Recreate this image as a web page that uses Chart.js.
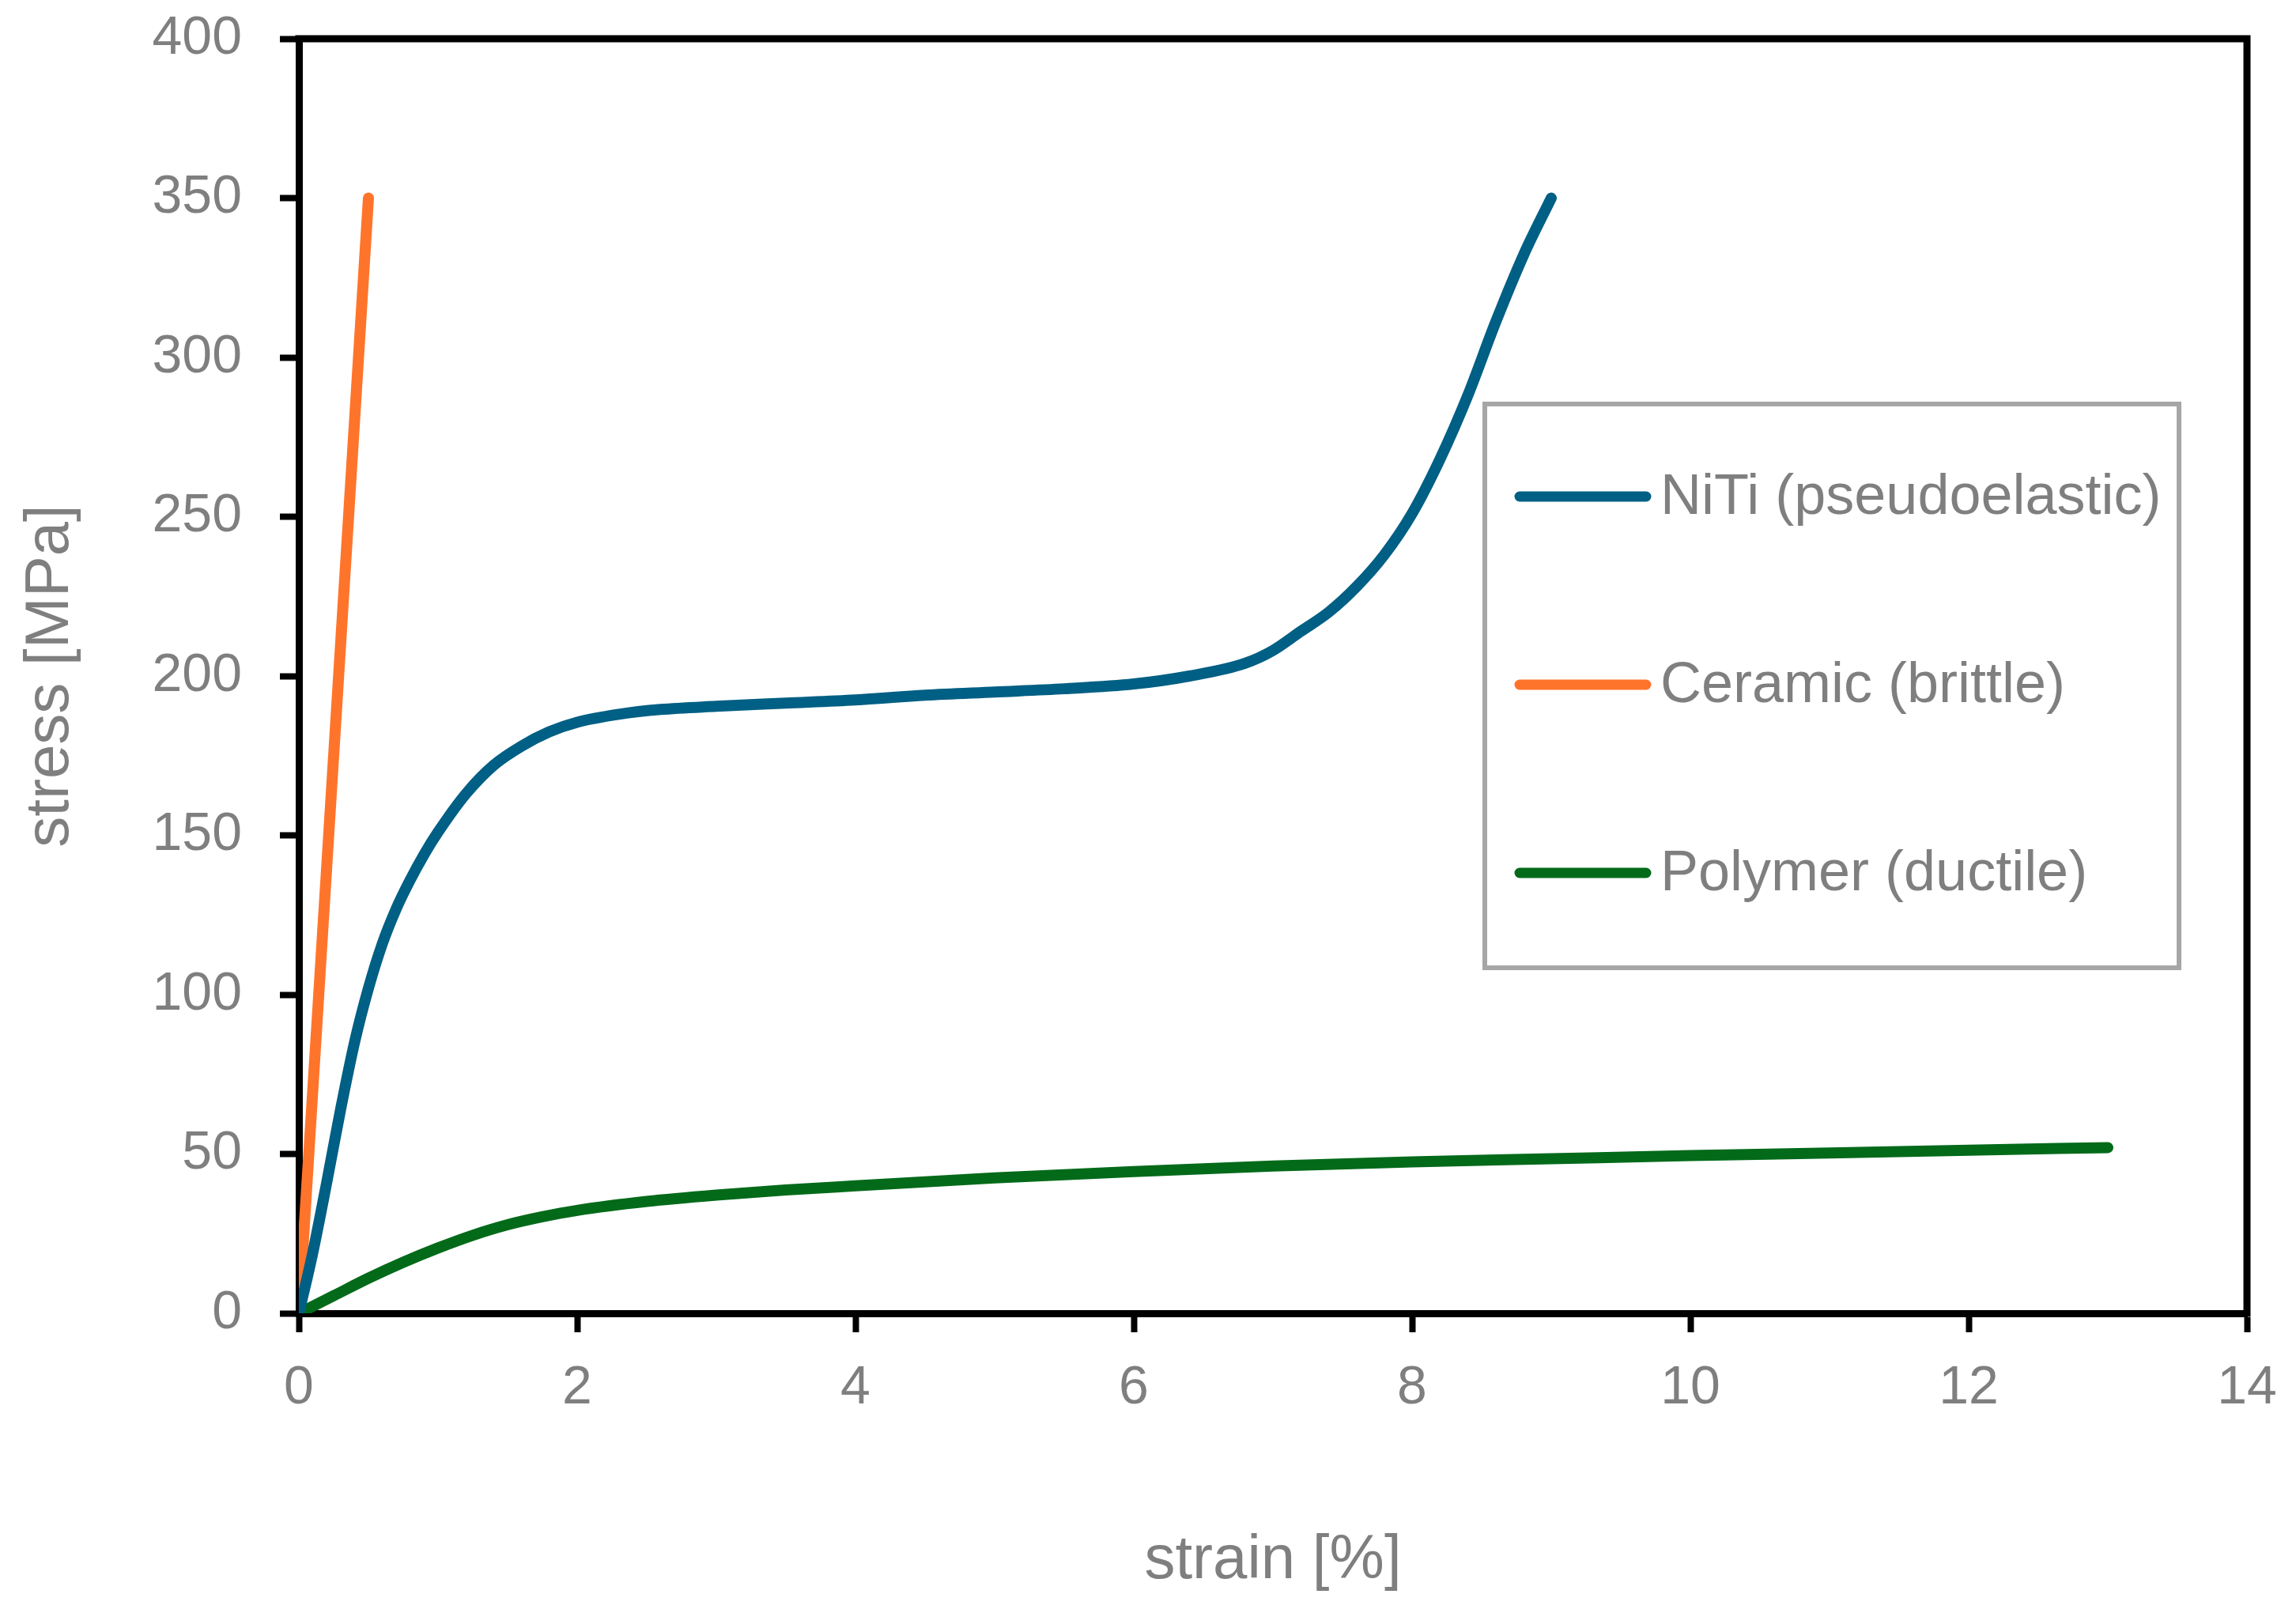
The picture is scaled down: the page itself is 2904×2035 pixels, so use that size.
<!DOCTYPE html>
<html>
<head>
<meta charset="utf-8">
<script src="https://cdn.jsdelivr.net/npm/chart.js@4.4.1/dist/chart.umd.min.js"></script>
<style>
  html, body { margin: 0; padding: 0; background: #fff; }
</style>
</head>
<body>
<canvas id="chart" width="2904" height="2035"></canvas>
<script>
// series
const seriesNames = ['NiTi (pseudoelastic)', 'Ceramic (brittle)', 'Polymer (ductile)'];
const seriesColors = ['#005F84', '#FF742B', '#026A19'];

const nitiStrain = [0, 0.1, 0.2, 0.3, 0.4, 0.5, 0.6, 0.7, 0.8, 0.9, 1.0, 1.2, 1.4, 1.6, 1.8, 2.0, 2.3, 2.6, 3.0, 3.5,
  4.0, 4.5, 5.0, 5.5, 6.0, 6.4, 6.8, 7.0, 7.2, 7.4, 7.6, 7.8, 8.0, 8.2, 8.4, 8.6, 8.8, 9.0];
const nitiStress = [0, 19, 41, 64, 85, 102, 116, 127, 136, 144, 151, 163, 172, 178, 182.5, 185.5, 188, 189.5, 190.5, 191.5,
  192.5, 194, 195, 196, 197.5, 200, 204, 208, 214, 220, 228, 238, 251, 268, 288, 311, 332, 350];

const ceramicStrain = [0, 0.5];
const ceramicStress = [0, 350];

const polymerStrain = [0, 0.25, 0.5, 0.75, 1, 1.25, 1.5, 1.75, 2, 2.5, 3, 3.5, 4, 5, 6, 7, 8, 9, 10, 11, 12, 13];
const polymerStress = [0, 5.5, 11, 16, 20.5, 24.5, 27.8, 30.3, 32.3, 35.1, 37.1, 38.7, 40, 42.5, 44.5, 46.2, 47.5, 48.5, 49.5, 50.3, 51.2, 52];

// axes
const xTickValues = [0, 2, 4, 6, 8, 10, 12, 14];
const yTickValues = [0, 50, 100, 150, 200, 250, 300, 350, 400];
const xTitle = 'strain [%]';
const yTitle = 'stress [MPa]';

const grey = '#7f7f7f';
const fontFamily = '"Liberation Sans", Arial, sans-serif';

function pts(xs, ys) {
  return xs.map((x, i) => ({ x: x, y: ys[i] }));
}

// black frame on top and right of the plot area
const frame = {
  id: 'frame',
  beforeDatasetsDraw(chart) {
    const { ctx, chartArea: a } = chart;
    ctx.save();
    ctx.strokeStyle = '#000';
    ctx.lineWidth = 9;
    ctx.lineCap = 'square';
    ctx.beginPath();
    ctx.moveTo(a.left, a.top);
    ctx.lineTo(a.right, a.top);
    ctx.lineTo(a.right, a.bottom);
    ctx.stroke();
    ctx.restore();
  }
};

// boxed legend inside the plot
const boxLegend = {
  id: 'boxLegend',
  afterDraw(chart) {
    const ctx = chart.ctx;
    const left = 1878, top = 511, right = 2756, bottom = 1224;
    ctx.save();
    ctx.fillStyle = '#fff';
    ctx.fillRect(left, top, right - left, bottom - top);
    ctx.strokeStyle = '#a6a6a6';
    ctx.lineWidth = 6;
    ctx.strokeRect(left, top, right - left, bottom - top);
    const rows = [628, 866, 1104];
    chart.data.datasets.forEach((ds, i) => {
      const y = rows[i];
      ctx.strokeStyle = ds.borderColor;
      ctx.lineWidth = 13;
      ctx.lineCap = 'round';
      ctx.beginPath();
      ctx.moveTo(1922, y);
      ctx.lineTo(2082, y);
      ctx.stroke();
      ctx.fillStyle = grey;
      ctx.font = '72px ' + fontFamily;
      ctx.textBaseline = 'middle';
      ctx.textAlign = 'left';
      ctx.fillText(ds.label, 2100, y + 2);
    });
    ctx.restore();
  }
};

const datasets = [
  { label: seriesNames[0], data: pts(nitiStrain, nitiStress) },
  { label: seriesNames[1], data: pts(ceramicStrain, ceramicStress) },
  { label: seriesNames[2], data: pts(polymerStrain, polymerStress) }
].map((d, i) => Object.assign(d, {
  borderColor: seriesColors[i],
  backgroundColor: seriesColors[i],
  borderWidth: 14,
  borderCapStyle: 'round',
  borderJoinStyle: 'round',
  pointRadius: 0,
  fill: false,
  cubicInterpolationMode: 'monotone'
}));

const tickFont = { family: fontFamily, size: 68 };
const titleFont = { family: fontFamily, size: 78 };

new Chart(document.getElementById('chart').getContext('2d'), {
  type: 'line',
  data: { datasets },
  options: {
    responsive: false,
    animation: false,
    devicePixelRatio: 1,
    layout: { padding: { top: 49, right: 62, left: 0, bottom: 0 } },
    plugins: { legend: { display: false }, tooltip: { enabled: false } },
    scales: {
      x: {
        type: 'linear',
        min: 0,
        max: 14,
        afterBuildTicks: s => { s.ticks = xTickValues.map(v => ({ value: v })); },
        afterFit: s => { s.height = 374; s.paddingLeft = 0; s.paddingRight = 0; },
        border: { display: true, color: '#000', width: 9 },
        grid: { drawOnChartArea: false, drawTicks: true, tickLength: 24, tickColor: '#000', tickWidth: 8 },
        ticks: { color: grey, font: tickFont, padding: 30, maxRotation: 0 },
        title: { display: true, text: xTitle, color: grey, font: titleFont, padding: { top: 0, bottom: 14 } }
      },
      y: {
        type: 'linear',
        min: 0,
        max: 400,
        afterBuildTicks: s => { s.ticks = yTickValues.map(v => ({ value: v })); },
        afterFit: s => { s.width = 378; s.paddingTop = 0; s.paddingBottom = 0; },
        border: { display: true, color: '#000', width: 9 },
        grid: { drawOnChartArea: false, drawTicks: true, tickLength: 24, tickColor: '#000', tickWidth: 8 },
        ticks: { color: grey, font: tickFont, padding: 48 },
        title: { display: true, text: yTitle, color: grey, font: titleFont, padding: { top: 18, bottom: 0 } }
      }
    }
  },
  plugins: [frame, boxLegend]
});
</script>
</body>
</html>
